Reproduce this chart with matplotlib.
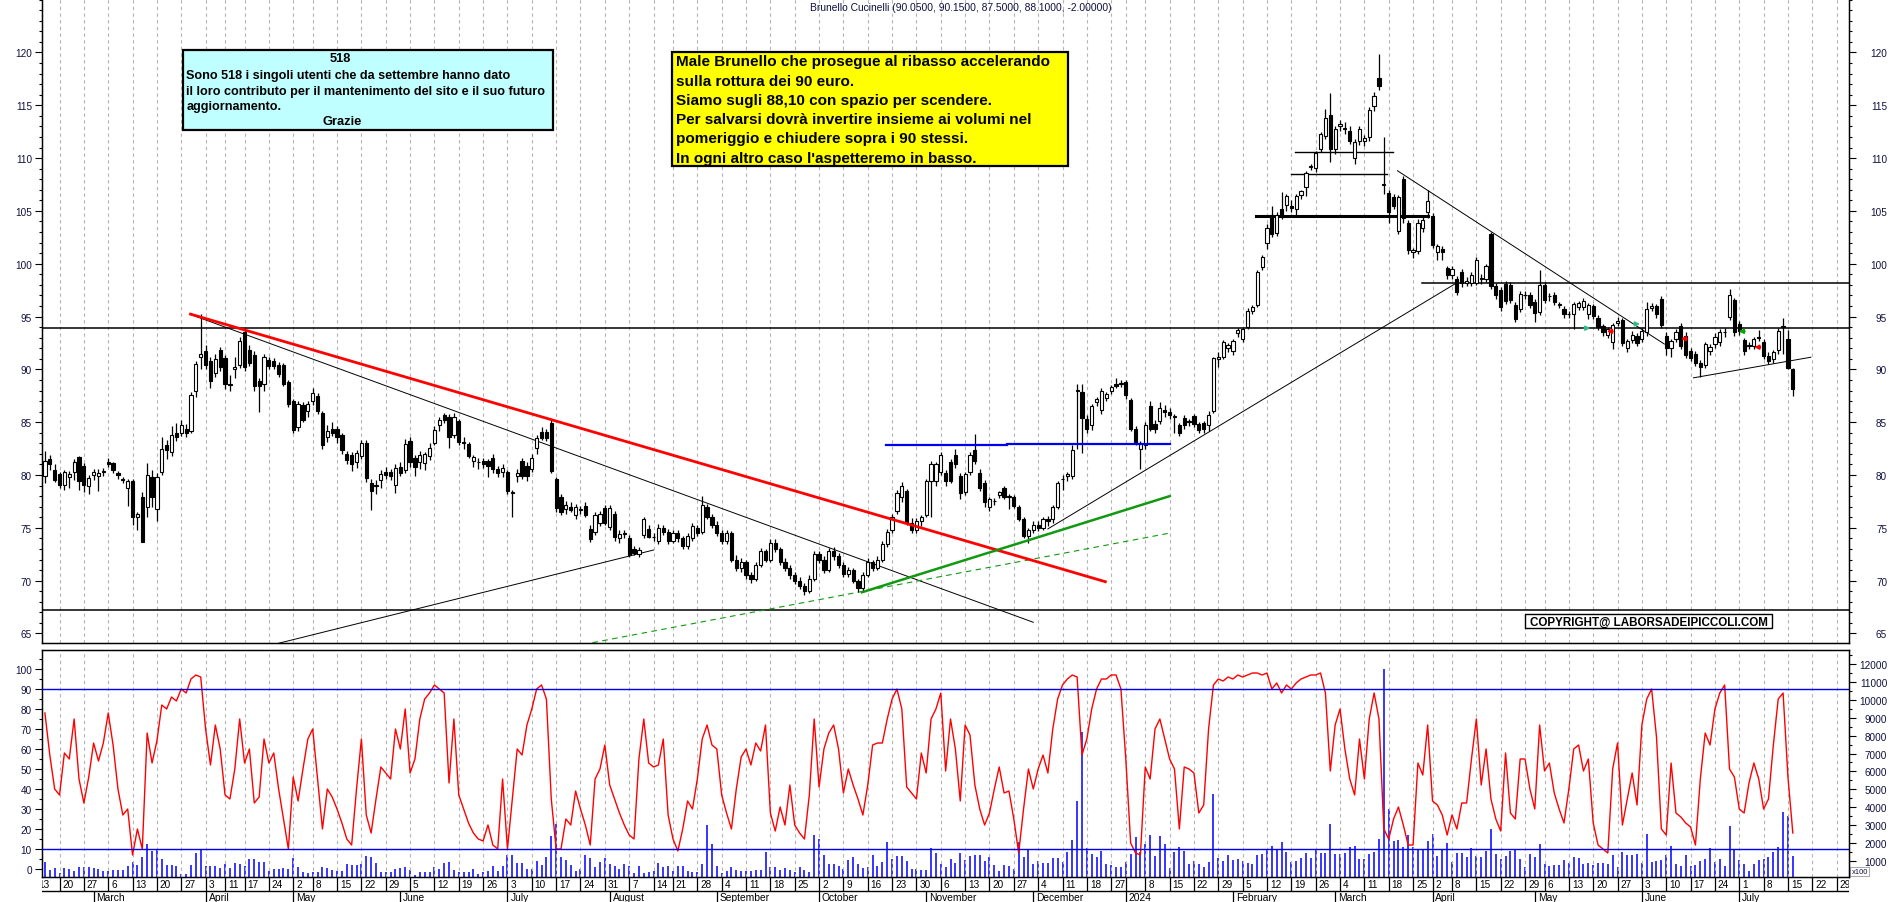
import numpy as np
import pandas as pd
import matplotlib
matplotlib.use('Agg')
import matplotlib.pyplot as plt
from matplotlib.patches import Rectangle
from matplotlib.ticker import FixedLocator, MultipleLocator

W, H = 1890, 903

# trading calendar (Borsa Italiana), bar 0 = 15 Feb 2023, last bar = 16 Jul 2024
holidays = ['2023-04-07', '2023-04-10', '2023-05-01', '2023-08-15', '2023-12-25', '2023-12-26',
            '2024-01-01', '2024-03-29', '2024-04-01', '2024-05-01']
days = pd.bdate_range('2023-02-13', '2024-08-09', freq='C', holidays=holidays)
day_pos = np.arange(len(days)) - 2

opens = [79.9, 81.5, 80.5, 80.1, 79.1, 79.8, 80.3, 81.7, 80.9, 79.0, 80.0, 79.9, 80.3, 81.2, 81.1, 80.2, 79.6, 78.8, 79.4, 76.0,
         77.9, 77.0, 79.8, 76.8, 80.3, 82.8, 82.2, 84.0, 84.0, 84.4, 84.2, 88.0, 91.2, 91.7, 90.8, 89.7, 91.8, 91.1, 88.5, 90.0,
         90.4, 93.5, 91.8, 91.4, 88.9, 88.6, 90.9, 90.8, 90.4, 90.4, 88.8, 87.0, 84.5, 86.6, 86.1, 87.0, 87.5, 85.9, 83.6, 84.4,
         84.4, 83.8, 82.0, 81.9, 81.2, 81.8, 83.0, 79.2, 79.0, 79.5, 80.3, 80.3, 79.1, 80.8, 80.5, 83.2, 81.6, 81.2, 81.1, 81.8,
         83.0, 84.7, 85.7, 85.5, 83.8, 85.1, 83.1, 82.9, 81.3, 81.2, 81.3, 81.3, 81.6, 80.6, 80.3, 80.3, 78.3, 79.9, 81.3, 80.9,
         80.6, 82.6, 84.1, 84.1, 84.9, 79.6, 77.9, 76.8, 77.0, 76.2, 76.7, 77.1, 74.9, 74.6, 75.5, 76.9, 75.1, 76.3, 74.0, 74.4,
         74.0, 73.0, 72.5, 74.3, 74.9, 74.1, 73.8, 75.0, 74.6, 73.8, 74.5, 74.0, 73.3, 74.0, 75.0, 74.6, 77.0, 76.0, 75.3, 74.5,
         73.8, 74.5, 72.0, 71.2, 71.8, 70.5, 70.2, 71.5, 72.8, 72.0, 73.6, 73.0, 71.8, 71.2, 70.5, 70.0, 69.5, 69.0, 70.2, 72.5,
         72.0, 71.0, 72.8, 72.3, 71.5, 70.6, 71.0, 70.0, 69.3, 70.5, 71.8, 71.2, 72.0, 73.5, 74.8, 76.6, 77.9, 78.5, 75.5, 74.8,
         75.6, 76.2, 79.4, 79.4, 80.3, 80.2, 81.2, 81.9, 79.9, 78.4, 80.3, 82.4, 80.2, 79.2, 77.0, 77.5, 78.1, 78.8, 77.9, 77.9,
         77.0, 75.8, 74.2, 74.8, 75.3, 75.0, 75.8, 75.8, 77.0, 79.6, 79.9, 79.9, 88.0, 87.9, 85.3, 84.7, 86.9, 86.2, 87.3, 88.0,
         88.6, 88.6, 88.8, 87.1, 84.4, 82.5, 82.8, 86.5, 84.8, 85.1, 86.2, 86.0, 85.5, 84.7, 85.4, 85.0, 85.6, 84.8, 84.9, 84.7,
         86.1, 91.0, 91.2, 92.0, 91.7, 93.4, 92.9, 94.0, 95.5, 96.1, 99.7, 102.0, 104.6, 102.9, 105.2, 105.6, 105.5, 105.2, 106.5, 107.3,
         109.2, 109.1, 110.9, 112.1, 114.1, 110.9, 113.0, 112.8, 112.6, 110.0, 111.6, 111.6, 112.0, 114.9, 117.6, 107.5, 106.7, 106.3, 103.1, 108.0,
         103.9, 101.1, 101.2, 103.4, 104.9, 104.5, 101.1, 101.4, 99.6, 98.9, 98.6, 99.2, 98.2, 98.2, 98.2, 98.6, 98.6, 102.8, 97.9, 97.5,
         98.1, 98.0, 96.1, 95.7, 97.0, 97.0, 96.4, 95.4, 98.0, 96.9, 97.0, 96.1, 95.7, 95.2, 95.2, 95.9, 95.9, 95.2, 96.0, 94.9,
         94.1, 93.3, 92.6, 94.4, 94.7, 92.0, 92.8, 93.2, 92.9, 93.5, 95.8, 96.0, 96.7, 93.2, 92.0, 92.9, 94.1, 93.2, 91.7, 91.5,
         90.6, 90.4, 91.7, 92.4, 92.6, 93.5, 95.0, 96.6, 94.3, 92.8, 92.2, 92.2, 93.0, 92.6, 91.3, 91.0, 91.8, 94.0, 92.9, 90.05]
highs = [82.3, 81.9, 81.0, 80.3, 80.5, 80.4, 81.5, 81.8, 81.1, 80.0, 80.6, 80.6, 80.7, 81.6, 81.2, 80.4, 79.8, 79.6, 79.6, 76.5,
         78.4, 81.1, 80.5, 80.2, 83.6, 83.3, 84.6, 84.9, 85.2, 84.8, 87.9, 90.8, 95.2, 92.3, 91.2, 91.5, 92.1, 91.4, 89.5, 91.2,
         93.1, 93.9, 92.3, 91.7, 89.2, 91.5, 91.2, 91.1, 90.7, 90.6, 89.0, 87.2, 87.0, 86.9, 87.0, 88.2, 87.8, 86.1, 84.7, 85.0,
         84.6, 84.0, 82.3, 82.2, 82.4, 83.3, 83.3, 79.6, 79.5, 80.5, 80.8, 80.6, 81.0, 81.2, 83.4, 83.6, 81.9, 82.3, 82.2, 83.0,
         84.6, 85.5, 85.9, 85.8, 85.9, 85.3, 83.6, 83.1, 81.9, 81.6, 81.6, 81.5, 82.0, 80.9, 81.0, 80.5, 78.6, 80.6, 81.6, 81.2,
         82.0, 83.8, 84.5, 84.4, 85.2, 79.8, 78.2, 77.5, 77.4, 77.3, 77.1, 77.4, 75.3, 76.5, 76.6, 77.2, 77.2, 76.6, 74.8, 74.8,
         74.3, 73.3, 73.2, 76.0, 75.3, 74.5, 75.4, 75.3, 74.9, 74.8, 74.8, 74.2, 74.5, 75.5, 75.3, 78.0, 77.3, 76.3, 75.6, 74.8,
         74.8, 74.7, 72.4, 72.1, 72.0, 70.8, 71.8, 73.1, 73.0, 73.9, 73.9, 73.2, 72.1, 71.5, 70.8, 70.3, 69.8, 70.5, 72.8, 72.8,
         72.3, 73.1, 73.2, 72.6, 71.8, 71.3, 71.2, 70.2, 70.8, 72.1, 72.0, 72.3, 73.8, 74.9, 76.3, 78.6, 79.3, 78.7, 75.9, 75.9,
         76.2, 79.6, 81.3, 81.2, 82.2, 80.5, 81.5, 82.5, 80.2, 80.3, 82.2, 83.9, 80.6, 79.5, 77.9, 77.8, 78.5, 79.0, 78.2, 78.1,
         77.2, 76.0, 75.0, 75.6, 75.6, 76.0, 76.1, 77.2, 79.4, 80.0, 80.3, 82.8, 88.6, 88.6, 85.7, 86.7, 87.4, 88.2, 87.9, 88.5,
         89.2, 89.0, 89.0, 87.3, 84.6, 83.2, 85.0, 87.0, 85.2, 86.9, 86.6, 86.3, 85.8, 84.9, 85.7, 85.3, 85.8, 85.0, 85.1, 86.1,
         91.2, 91.6, 92.8, 92.5, 92.9, 93.9, 94.0, 95.8, 96.1, 99.4, 100.8, 103.8, 105.5, 104.9, 106.8, 106.6, 106.0, 106.6, 107.0, 108.8,
         109.4, 110.7, 112.5, 114.6, 116.2, 113.0, 113.6, 113.4, 113.0, 111.8, 113.0, 112.2, 114.8, 116.3, 119.9, 112.0, 107.0, 106.6, 106.5, 108.3,
         104.1, 101.5, 104.2, 104.4, 107.0, 104.8, 101.9, 101.7, 99.8, 99.8, 98.8, 99.5, 98.7, 99.2, 100.6, 99.0, 100.0, 103.0, 98.2, 97.8,
         98.4, 98.3, 96.4, 97.4, 97.4, 97.3, 96.7, 99.4, 98.3, 97.2, 97.3, 96.4, 96.0, 95.5, 96.4, 96.5, 96.8, 96.3, 96.2, 95.1,
         94.3, 94.0, 94.4, 95.0, 94.9, 92.9, 93.6, 93.4, 93.9, 96.4, 96.3, 96.2, 96.9, 93.5, 92.9, 93.8, 94.4, 93.5, 92.0, 91.7,
         90.9, 92.6, 92.4, 93.4, 93.8, 93.9, 97.6, 96.8, 94.6, 93.0, 92.6, 93.1, 93.7, 92.9, 91.6, 91.8, 93.9, 94.9, 93.7, 90.15]
lows = [79.2, 80.5, 79.3, 78.8, 78.6, 78.8, 79.5, 78.6, 78.4, 78.2, 79.5, 78.5, 79.9, 80.8, 80.2, 79.6, 79.2, 77.1, 75.3, 74.8,
        73.7, 76.0, 77.0, 75.6, 80.0, 81.5, 81.8, 83.2, 83.7, 83.6, 84.0, 87.4, 90.0, 90.0, 88.2, 89.3, 89.8, 88.1, 88.0, 89.2,
        90.1, 89.8, 90.3, 88.0, 86.0, 88.0, 90.0, 90.0, 89.3, 88.4, 86.4, 84.0, 84.2, 85.0, 85.5, 86.6, 85.8, 82.5, 83.1, 83.7,
        83.0, 82.0, 81.0, 80.4, 80.7, 81.5, 79.3, 76.7, 78.2, 78.8, 79.6, 79.5, 78.3, 79.9, 80.2, 80.8, 79.9, 80.6, 80.5, 81.4,
        82.8, 84.2, 84.9, 82.6, 83.5, 82.8, 82.5, 81.6, 80.8, 80.6, 80.7, 79.8, 80.2, 79.8, 79.8, 78.2, 76.0, 79.3, 79.6, 79.4,
        80.3, 82.0, 83.3, 83.2, 80.2, 76.5, 76.2, 76.3, 76.5, 75.8, 76.3, 76.0, 73.7, 74.3, 75.2, 75.3, 74.8, 73.8, 73.6, 74.0,
        72.2, 72.4, 72.2, 74.0, 74.0, 73.8, 73.5, 74.3, 73.5, 73.6, 73.7, 73.0, 73.0, 73.8, 74.2, 74.4, 75.8, 75.0, 74.2, 73.5,
        73.5, 71.8, 70.9, 70.8, 70.2, 69.8, 70.0, 71.3, 71.8, 71.8, 72.7, 71.5, 70.9, 70.2, 69.7, 69.2, 68.6, 68.8, 70.0, 71.7,
        70.7, 70.8, 72.0, 71.2, 70.3, 70.3, 69.8, 68.9, 69.0, 70.3, 70.9, 71.0, 71.8, 73.2, 74.5, 76.3, 77.4, 75.3, 74.5, 74.5,
        75.2, 76.0, 76.0, 79.0, 80.0, 79.0, 79.2, 80.7, 77.7, 78.1, 80.0, 81.0, 78.5, 77.0, 76.6, 77.2, 77.8, 77.7, 76.8, 76.9,
        75.6, 74.0, 73.6, 74.5, 74.7, 74.8, 75.2, 75.5, 76.8, 78.6, 79.4, 79.6, 82.5, 82.1, 84.0, 84.3, 86.5, 85.8, 87.0, 87.7,
        88.2, 88.3, 87.2, 84.2, 82.8, 80.6, 82.5, 84.2, 84.0, 84.8, 85.5, 85.3, 84.0, 83.7, 84.4, 84.6, 84.5, 84.0, 84.0, 84.2,
        85.9, 90.2, 91.0, 91.6, 91.4, 93.1, 92.6, 93.8, 95.2, 95.9, 99.4, 101.4, 102.5, 102.6, 104.2, 105.0, 104.9, 104.6, 106.1, 106.4,
        108.9, 108.7, 110.6, 111.8, 109.6, 110.4, 112.6, 112.3, 111.3, 109.4, 111.2, 111.1, 111.6, 114.5, 116.4, 106.6, 103.9, 105.2, 102.8, 103.9,
        100.9, 100.5, 100.9, 103.0, 104.3, 101.5, 100.4, 100.4, 98.6, 98.6, 97.0, 97.8, 97.9, 97.9, 98.0, 98.1, 98.3, 97.6, 96.7, 95.5,
        96.2, 96.3, 94.5, 95.4, 96.7, 95.8, 94.5, 95.1, 96.3, 96.5, 96.1, 95.8, 94.9, 94.9, 93.8, 95.6, 95.6, 94.8, 94.8, 93.7,
        93.2, 93.0, 91.9, 94.1, 92.2, 91.6, 92.5, 92.2, 92.6, 93.2, 95.5, 94.9, 93.9, 91.4, 91.2, 92.6, 91.9, 91.1, 90.8, 90.3,
        89.3, 90.1, 91.4, 92.0, 92.2, 93.1, 94.7, 93.2, 93.3, 91.4, 91.9, 91.9, 92.7, 91.0, 90.5, 90.6, 91.5, 91.5, 90.0, 87.5]
closes = [81.3, 81.0, 79.5, 79.1, 80.3, 80.1, 81.2, 79.4, 79.1, 79.7, 80.3, 80.2, 80.4, 81.0, 80.5, 80.0, 79.5, 79.4, 76.0, 76.3,
          73.7, 80.0, 77.9, 79.8, 82.5, 82.4, 83.8, 83.6, 84.7, 84.0, 87.6, 90.5, 91.5, 90.4, 88.9, 91.0, 90.2, 88.6, 88.5, 90.2,
          92.7, 90.2, 90.6, 88.4, 88.4, 91.2, 90.3, 90.3, 89.6, 88.6, 86.7, 84.3, 86.7, 85.2, 86.7, 87.8, 86.1, 82.8, 84.2, 84.0,
          83.6, 82.4, 81.4, 81.0, 82.1, 83.0, 79.7, 78.5, 79.0, 80.1, 80.0, 79.9, 80.7, 80.2, 82.9, 81.2, 80.8, 81.9, 82.0, 82.6,
          84.3, 85.2, 85.2, 83.6, 85.5, 83.1, 83.0, 81.8, 81.7, 81.2, 81.0, 80.9, 80.6, 80.2, 80.7, 78.5, 78.3, 80.2, 79.9, 79.9,
          81.6, 83.5, 83.5, 83.5, 80.4, 76.9, 76.5, 77.2, 76.7, 77.0, 76.7, 76.2, 73.9, 76.2, 76.3, 75.5, 76.9, 74.1, 74.4, 74.4,
          72.4, 72.6, 72.9, 75.8, 74.1, 74.1, 75.0, 74.6, 73.8, 74.5, 74.0, 73.3, 74.2, 75.2, 74.5, 77.2, 76.0, 75.3, 74.5, 73.8,
          74.5, 72.0, 71.2, 71.8, 70.5, 70.2, 71.5, 72.8, 72.0, 73.6, 73.0, 71.8, 71.2, 70.5, 70.0, 69.5, 69.0, 70.2, 72.5, 72.0,
          71.0, 72.8, 72.3, 71.5, 70.6, 71.0, 70.0, 69.3, 70.5, 71.8, 71.2, 72.0, 73.5, 74.6, 76.0, 78.3, 79.0, 75.5, 74.8, 75.6,
          76.0, 79.4, 81.0, 81.0, 81.9, 79.4, 79.4, 81.0, 78.3, 80.1, 81.9, 81.3, 78.8, 77.4, 77.7, 77.5, 78.4, 77.9, 77.9, 77.1,
          75.8, 74.2, 74.8, 75.3, 75.0, 75.8, 75.6, 77.0, 79.2, 79.6, 80.1, 82.4, 88.0, 85.4, 84.4, 86.5, 87.2, 88.0, 87.7, 88.3,
          88.4, 88.6, 87.6, 84.4, 83.1, 83.0, 84.7, 84.4, 84.4, 86.3, 86.0, 85.7, 85.5, 84.0, 84.7, 85.0, 84.8, 84.3, 84.4, 85.7,
          91.1, 91.2, 92.6, 92.3, 92.7, 93.7, 93.8, 95.5, 95.9, 99.2, 100.6, 103.4, 102.8, 104.6, 104.5, 106.4, 105.3, 106.4, 106.9, 108.6,
          109.2, 110.5, 112.3, 113.8, 110.9, 112.75, 113.2, 112.8, 111.65, 111.5, 112.75, 111.9, 114.55, 115.85, 116.8, 107.5, 104.9, 105.5, 106.3, 104.3,
          101.3, 101.3, 103.9, 104.1, 105.95, 101.8, 101.7, 101.1, 98.9, 99.5, 97.3, 98.2, 98.4, 98.9, 100.4, 98.6, 99.75, 97.9, 97.0, 95.9,
          96.5, 96.6, 94.8, 97.1, 97.0, 96.1, 95.3, 98.0, 96.6, 96.9, 96.4, 96.1, 95.2, 95.2, 96.2, 96.3, 96.5, 96.1, 95.07, 93.97,
          93.5, 93.8, 94.2, 94.6, 92.45, 92.7, 93.3, 92.45, 93.65, 95.7, 96.0, 95.2, 94.2, 92.0, 92.7, 93.5, 92.2, 91.4, 91.1, 90.6,
          90.2, 92.4, 92.1, 93.1, 93.5, 93.5, 97.0, 93.5, 93.65, 91.75, 92.2, 92.85, 93.0, 91.3, 90.8, 91.6, 93.65, 94.0, 90.1, 88.1]

# volume, axis units (x100)
volumes = [944, 517, 610, 350, 610, 573, 443, 703, 703, 703, 629, 573, 443, 480, 517, 517, 517, 759, 981, 796,
           1259, 1964, 1593, 1686, 1130, 796, 796, 759, 295, 295, 796, 1463, 1686, 759, 759, 759, 629, 851, 629, 907,
           851, 759, 1130, 1130, 981, 944, 480, 573, 573, 610, 573, 1185, 703, 388, 350, 425, 388, 666, 629, 536,
           480, 480, 851, 814, 796, 851, 1315, 1222, 907, 425, 425, 388, 573, 610, 666, 517, 239, 425, 388, 388,
           703, 573, 888, 981, 536, 388, 425, 425, 573, 295, 388, 480, 759, 480, 721, 1352, 1352, 907, 907, 573,
           573, 1037, 796, 1222, 2428, 3077, 1259, 1074, 796, 480, 573, 1352, 1185, 666, 944, 1185, 851, 759, 573, 851,
           721, 350, 721, 350, 425, 480, 907, 666, 759, 480, 759, 721, 480, 388, 425, 851, 3022, 1964, 759, 350,
           480, 703, 536, 480, 480, 480, 536, 536, 1500, 703, 703, 536, 610, 517, 388, 703, 536, 388, 2465, 2243,
           1352, 851, 851, 759, 573, 1074, 1259, 851, 610, 703, 1352, 759, 981, 2094, 1130, 1315, 1315, 1037, 573, 573,
           517, 517, 1742, 1463, 851, 703, 1130, 888, 1463, 1074, 1315, 1352, 1352, 1000, 1259, 796, 480, 796, 759, 573,
           2057, 1259, 1649, 851, 1000, 907, 907, 1185, 1185, 944, 1500, 2187, 4376, 8178, 1742, 1408, 1259, 1593, 851, 796,
           703, 703, 944, 1408, 2335, 1500, 1964, 2465, 1315, 2391, 1964, 610, 1500, 1779, 1593, 851, 1037, 851, 666, 981,
           4747, 1185, 1037, 1352, 1074, 1130, 1000, 888, 851, 1352, 1408, 1649, 1872, 1649, 2057, 1500, 944, 1000, 1185, 1445,
           1185, 1649, 1445, 1445, 3077, 1408, 1408, 1445, 1779, 1834, 1130, 1130, 1408, 1500, 2243, 11700, 3912, 2150, 2187, 1779,
           2465, 1779, 1686, 1686, 2113, 2521, 1315, 1649, 2020, 944, 1463, 1463, 1259, 1742, 1315, 1259, 1556, 2800, 1408, 1130,
           1315, 1593, 1649, 1130, 703, 1408, 1259, 1964, 851, 759, 796, 796, 1074, 907, 1259, 1185, 851, 888, 814, 907,
           888, 851, 1352, 703, 1500, 1371, 1371, 1408, 907, 2521, 944, 1000, 1074, 1371, 1834, 851, 759, 1352, 721, 814,
           1037, 1130, 1742, 981, 1130, 759, 2985, 1649, 1074, 851, 480, 851, 1074, 1130, 1259, 1538, 1816, 3726, 3504, 1278]

# oscillator (0-100)
oscillator = [78, 57, 40, 37, 58, 55, 75, 45, 33, 46, 63, 54, 63, 78, 62, 40, 27, 30, 7, 20,
              10, 68, 53, 64, 82, 80, 86, 84, 90, 88, 95, 97, 96, 70, 52, 72, 60, 37, 35, 50,
              75, 53, 60, 33, 36, 65, 53, 58, 40, 25, 10, 46, 34, 50, 65, 70, 45, 20, 40, 36,
              30, 23, 15, 12, 40, 65, 27, 18, 35, 51, 48, 45, 70, 60, 80, 48, 55, 75, 85, 88,
              92, 90, 88, 43, 75, 37, 30, 23, 18, 15, 14, 22, 12, 10, 45, 10, 35, 60, 57, 72,
              80, 90, 92, 85, 35, 10, 10, 25, 22, 39, 30, 22, 12, 45, 50, 62, 42, 35, 28, 22,
              17, 15, 55, 75, 53, 51, 52, 65, 27, 15, 9, 20, 34, 30, 45, 65, 72, 62, 60, 37,
              28, 20, 40, 56, 60, 52, 63, 59, 72, 28, 19, 31, 22, 42, 22, 18, 15, 37, 75, 41,
              60, 68, 72, 60, 38, 50, 42, 35, 27, 42, 62, 63, 63, 75, 85, 90, 80, 41, 38, 35,
              58, 48, 75, 80, 88, 49, 75, 60, 34, 72, 67, 42, 30, 22, 28, 40, 51, 38, 39, 25,
              8, 30, 50, 40, 50, 57, 48, 70, 85, 92, 95, 97, 96, 57, 65, 80, 90, 95, 95, 97,
              97, 90, 55, 13, 8, 7, 51, 45, 70, 75, 65, 55, 50, 20, 51, 50, 48, 28, 32, 70,
              92, 95, 94, 96, 95, 97, 96, 97, 98, 98, 97, 98, 90, 93, 88, 92, 90, 93, 95, 96,
              97, 97, 98, 88, 49, 72, 80, 60, 45, 37, 65, 45, 75, 88, 75, 20, 15, 25, 31, 22,
              12, 12, 53, 47, 72, 34, 32, 27, 17, 27, 20, 33, 33, 55, 75, 42, 60, 35, 25, 19,
              58, 28, 25, 55, 55, 40, 30, 72, 49, 53, 38, 30, 23, 40, 60, 62, 49, 55, 23, 12,
              10, 8, 50, 63, 22, 35, 48, 32, 72, 85, 90, 66, 20, 17, 53, 28, 26, 23, 21, 12,
              45, 68, 62, 80, 88, 92, 50, 46, 30, 28, 43, 53, 45, 30, 35, 62, 85, 88, 46, 18]

# drawn studies: (bar0, price0, bar1, price1)
red_trend = (29.9, 95.23, 217.8, 69.9)
black_trends = [(29.9, 95.2, 203.0, 66.06), (43.0, 63.5, 125.0, 72.9), (206.0, 74.9, 290.0, 98.2),
                (277.8, 108.8, 332.6, 92.4), (338.6, 89.2, 362.7, 91.15)]
green_trend = (167.8, 68.9, 231.0, 78.0)
green_dashed = (106.4, 63.6, 231.0, 74.5)
blue_levels = [(172.7, 82.85, 197.7, 82.85), (197.7, 82.97, 231.0, 82.97)]
top_levels = [(256.7, 110.54, 276.9, 110.54, 1.0), (255.9, 108.49, 275.7, 108.49, 1.0),
              (248.7, 104.54, 284.1, 104.54, 2.2)]
full_levels = [93.9, 67.2]
res_level = (282.9, 98.2)
arrow_marks = [(316.8, 93.9, 1, '#33bb88'), (321.4, 93.6, -1, '#ff0000'), (327.0, 94.3, 1, '#33bb88'),
               (336.6, 92.9, -1, '#ff0000'), (348.5, 93.6, -1, '#00aa00'), (351.7, 92.1, -1, '#ff0000')]

price_ticks = list(range(65, 125, 5))
osc_ticks = list(range(0, 101, 10))
vol_ticks = list(range(1000, 12001, 1000))
month_names = {1: '2024', 2: 'February', 3: 'March', 4: 'April', 5: 'May', 6: 'June', 7: 'July',
               8: 'August', 9: 'September', 10: 'October', 11: 'November', 12: 'December'}

note_cyan = ['Sono 518 i singoli utenti che da settembre hanno dato',
             'il loro contributo per il mantenimento del sito e il suo futuro',
             'aggiornamento.']
note_yellow = ['Male Brunello che prosegue al ribasso accelerando',
               'sulla rottura dei 90 euro.',
               'Siamo sugli 88,10 con spazio per scendere.',
               'Per salvarsi dovrà invertire insieme ai volumi nel',
               'pomeriggio e chiudere sopra i 90 stessi.',
               "In ogni altro caso l'aspetteremo in basso."]

plt.rcParams['font.family'] = ['Liberation Sans', 'DejaVu Sans']
LABEL_C = '#101040'


def rect(x0, y0, x1, y1):
    return [x0 / W, 1 - y1 / H, (x1 - x0) / W, (y1 - y0) / H]


fig = plt.figure(figsize=(W / 100, H / 100), dpi=100)
fig.patch.set_facecolor('white')

XL = (-0.6, 370.6)
ax1 = fig.add_axes(rect(42, 0, 1849.3, 644.3))
ax2 = fig.add_axes(rect(42, 651, 1849.3, 878))
ax3 = fig.add_axes(rect(42, 878, 1849.3, 903))

n = len(closes)
idx = np.arange(n)
O = np.array(opens); Hh = np.array(highs); L = np.array(lows); C = np.array(closes)

# weekly / monthly positions
ser = pd.Series(day_pos, index=days)
iso = days.isocalendar()
week_first = ser.groupby([iso.year.values, iso.week.values]).first().values
month_first = ser.groupby([days.year, days.month]).first()

for ax in (ax1, ax2):
    ax.set_xlim(*XL)
    for p in week_first:
        if XL[0] < p < XL[1]:
            ax.axvline(p, color='#b4b4b4', lw=0.8, ls=(0, (3, 3)), zorder=0)
    ax.set_xticks([])
    for s in ('top', 'bottom', 'left', 'right'):
        ax.spines[s].set_linewidth(1.0)

# ---- price panel
ax1.set_ylim(64.07, 125.06)
ax1.spines['top'].set_visible(False)
ax1.vlines(idx, L, Hh, color='black', lw=0.9, zorder=3)
up = C >= O
body = np.maximum(np.abs(C - O), 0.07)
ax1.bar(idx, body, bottom=np.minimum(O, C), width=0.66,
        color=np.where(up, 'white', 'black'), edgecolor='black', lw=0.8, zorder=4)

for lev in full_levels:
    ax1.axhline(lev, color='black', lw=1.1, zorder=2)
ax1.plot([res_level[0], XL[1]], [res_level[1]] * 2, color='black', lw=1.1, zorder=2)
for x0, y0, x1, y1, lw in top_levels:
    ax1.plot([x0, x1], [y0, y1], color='black', lw=lw, zorder=2)
for x0, y0, x1, y1 in black_trends:
    ax1.plot([x0, x1], [y0, y1], color='black', lw=0.7, zorder=2)
ax1.plot(red_trend[::2], red_trend[1::2], color='#ff0000', lw=2.0, zorder=5)
ax1.plot(green_trend[::2], green_trend[1::2], color='#119911', lw=1.8, zorder=5)
ax1.plot(green_dashed[::2], green_dashed[1::2], color='#119911', lw=0.8, ls=(0, (5, 4)), zorder=2)
for x0, y0, x1, y1 in blue_levels:
    ax1.plot([x0, x1], [y0, y1], color='#0000ee', lw=1.6, zorder=5)
for x, y, d, col in arrow_marks:
    ax1.annotate('', xy=(x + 1.2 * d, y), xytext=(x - 1.2 * d, y),
                 arrowprops=dict(arrowstyle='-|>', color=col, lw=1.4, mutation_scale=6), zorder=6)

ax1.yaxis.set_major_locator(FixedLocator(price_ticks))
ax1.yaxis.set_minor_locator(MultipleLocator(1))
ax1r = ax1.twinx()
ax1r.set_ylim(ax1.get_ylim())
ax1r.yaxis.set_major_locator(FixedLocator(price_ticks))
ax1r.yaxis.set_minor_locator(MultipleLocator(1))
ax1r.spines['top'].set_visible(False)

# ---- oscillator / volume panel
ax2.set_ylim(-4, 109.5)
ax2r = ax2.twinx()
ax2r.set_ylim(128, 12760)
ax2r.vlines(idx, 128, volumes, color='#0000ff', lw=1.1, zorder=2)
ax2.set_zorder(ax2r.get_zorder() + 1)
ax2.patch.set_visible(False)
ax2.plot(idx, oscillator, color='#ff0000', lw=1.0, zorder=3)
ax2.axhline(90, color='#0000ee', lw=1.0, zorder=4)
ax2.axhline(10, color='#0000ee', lw=1.0, zorder=4)
ax2.yaxis.set_major_locator(FixedLocator(osc_ticks))
ax2.yaxis.set_minor_locator(MultipleLocator(5))
ax2r.yaxis.set_major_locator(FixedLocator(vol_ticks))
ax2r.yaxis.set_minor_locator(MultipleLocator(500))
ax2r.text(1.0012, 0.008, 'x100', transform=ax2r.transAxes, fontsize=5.5, color=LABEL_C,
          ha='left', va='bottom', bbox=dict(boxstyle='square,pad=0.15', fc='white', ec='#999999', lw=0.6))

for ax in (ax1, ax2):
    ax.tick_params(axis='y', which='major', direction='out', length=4.8, width=0.8, pad=2.4,
                   labelsize=7.2, labelcolor=LABEL_C)
    ax.tick_params(axis='y', which='minor', direction='out', length=2.4, width=0.8)
for ax in (ax1r, ax2r):
    ax.tick_params(axis='y', which='major', direction='out', length=4.8, width=0.8, pad=22.5,
                   labelsize=7.2, labelcolor=LABEL_C)
    ax.tick_params(axis='y', which='minor', direction='out', length=2.4, width=0.8)
    for lab in ax.get_yticklabels():
        lab.set_ha('right')

# ---- date rows
ax3.set_xlim(*XL)
ax3.set_ylim(25, 0)
ax3.axis('off')
ax3.axhline(14, color='black', lw=1.0)
for p in week_first:
    if not (XL[0] - 3 <= p <= XL[1]):
        continue
    d = days[np.searchsorted(day_pos, p)]
    ax3.vlines(p, 0, 14, color='black', lw=0.9, clip_on=True)
    if d.month == 1 and d.day <= 3:
        continue
    ax3.text(p + 0.6, 7.4, str(d.day), fontsize=7.2, ha='left', va='center', clip_on=True)
for (yy, mm), p in month_first.items():
    if not (0 <= p <= XL[1]):
        continue
    ax3.vlines(p, 14, 25, color='black', lw=0.9, clip_on=True)
    ax3.text(p + 0.6, 20.3, month_names[mm], fontsize=7.4, ha='left', va='center', clip_on=True)


# ---- annotations
def box(x0, y0, x1, y1, fc, lw=1.6):
    fig.add_artist(Rectangle((x0 / W, 1 - y1 / H), (x1 - x0) / W, (y1 - y0) / H,
                             transform=fig.transFigure, fc=fc, ec='black', lw=lw, zorder=10))


def ftext(x, y, s, **kw):
    fig.text(x / W, 1 - y / H, s, zorder=11, **kw)


box(183, 51, 553, 131, '#c0ffff')
ftext(340, 58.5, '518', fontsize=9.3, fontweight='bold', ha='center', va='center')
for k, s in enumerate(note_cyan):
    ftext(186.5, 76 + 15.6 * k, s, fontsize=9.1, fontweight='bold', ha='left', va='center')
ftext(342, 122, 'Grazie', fontsize=9.3, fontweight='bold', ha='center', va='center')

box(672.5, 53, 1068, 167, '#ffff00')
for k, s in enumerate(note_yellow):
    ftext(676, 62.3 + 19.3 * k, s, fontsize=11.0, fontweight='bold', ha='left', va='center')

box(1525, 615, 1772, 629, 'white', lw=1.0)
ftext(1648.5, 622.3, 'COPYRIGHT@ LABORSADEIPICCOLI.COM', fontsize=8.4, fontweight='bold',
      ha='center', va='center')

ftext(961, 8, 'Brunello Cucinelli (90.0500, 90.1500, 87.5000, 88.1000, -2.00000)', fontsize=7.4,
      ha='center', va='center', color=LABEL_C)

fig.savefig('out.png', dpi=100)
